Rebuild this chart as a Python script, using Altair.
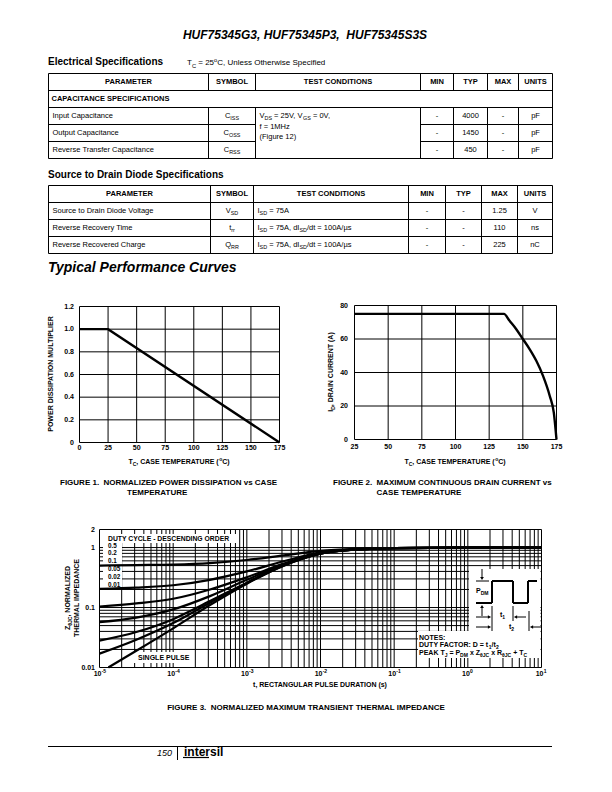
import altair as alt
import pandas as pd

FONT = "Liberation Sans"
NB = "\u00a0"

# ============================ DATA ============================
part_numbers = "HUF75345G3, HUF75345P3," + NB + " HUF75345S3S"
spec_title = "Electrical Specifications"
spec_note = [("T", 0), ("C", 1), (" = 25", 0), ("o", 2), ("C, Unless Otherwise Specified", 0)]
diode_title = "Source to Drain Diode Specifications"
curves_title = "Typical Performance Curves"

table_headers = ["PARAMETER", "SYMBOL", "TEST CONDITIONS", "MIN", "TYP", "MAX", "UNITS"]
cap_section = "CAPACITANCE SPECIFICATIONS"
cap_params = ["Input Capacitance", "Output Capacitance", "Reverse Transfer Capacitance"]
cap_symbols = [[("C", 0), ("ISS", 1)], [("C", 0), ("OSS", 1)], [("C", 0), ("RSS", 1)]]
cap_conditions = [[("V", 0), ("DS", 1), (" = 25V, V", 0), ("GS", 1), (" = 0V,", 0)],
                  [("f = 1MHz", 0)],
                  [("(Figure 12)", 0)]]
cap_min = ["-", "-", "-"]
cap_typ = ["4000", "1450", "450"]
cap_max = ["-", "-", "-"]
cap_units = ["pF", "pF", "pF"]

diode_params = ["Source to Drain Diode Voltage", "Reverse Recovery Time", "Reverse Recovered Charge"]
diode_symbols = [[("V", 0), ("SD", 1)], [("t", 0), ("rr", 1)], [("Q", 0), ("RR", 1)]]
diode_conditions = [[("I", 0), ("SD", 1), (" = 75A", 0)],
                    [("I", 0), ("SD", 1), (" = 75A, dI", 0), ("SD", 1), ("/dt = 100A/\u00b5s", 0)],
                    [("I", 0), ("SD", 1), (" = 75A, dI", 0), ("SD", 1), ("/dt = 100A/\u00b5s", 0)]]
diode_min = ["-", "-", "-"]
diode_typ = ["-", "-", "-"]
diode_max = ["1.25", "110", "225"]
diode_units = ["V", "ns", "nC"]

# Figure 1
fig1_temp = [0, 25, 175]
fig1_multiplier = [1.0, 1.0, 0.0]
fig1_x_ticks = [0, 25, 50, 75, 100, 125, 150, 175]
fig1_y_ticks = [0, 0.2, 0.4, 0.6, 0.8, 1.0, 1.2]
fig1_y_labels = ["0", "0.2", "0.4", "0.6", "0.8", "1.0", "1.2"]

# Figure 2
fig2_temp = [25, 136, 140, 145, 150, 155, 160, 165, 170, 173, 175]
fig2_current = [75, 75, 71, 66, 60, 54, 47, 38, 26, 16, 0]
fig2_x_ticks = [25, 50, 75, 100, 125, 150, 175]
fig2_y_ticks = [0, 20, 40, 60, 80]

# Figure 3
fig3_time = [1e-5, 3.16e-5, 1e-4, 3.16e-4, 1e-3, 3.16e-3, 1e-2, 3.16e-2, 1e-1, 1.0, 10.0]
fig3_d050 = [0.50, 0.51, 0.52, 0.55, 0.62, 0.74, 0.88, 0.95, 0.98, 1.0, 1.0]
fig3_d020 = [0.205, 0.215, 0.235, 0.29, 0.40, 0.59, 0.83, 0.94, 0.98, 1.0, 1.0]
fig3_d010 = [0.104, 0.117, 0.14, 0.20, 0.32, 0.54, 0.81, 0.93, 0.98, 1.0, 1.0]
fig3_d005 = [0.057, 0.068, 0.093, 0.155, 0.29, 0.52, 0.80, 0.93, 0.98, 1.0, 1.0]
fig3_d002 = [0.028, 0.039, 0.064, 0.128, 0.26, 0.51, 0.79, 0.93, 0.98, 1.0, 1.0]
fig3_d001 = [0.017, 0.029, 0.055, 0.12, 0.255, 0.50, 0.79, 0.93, 0.98, 1.0, 1.0]
fig3_single_time = [1.32e-5, 3.16e-5, 1e-4, 3.16e-4, 1e-3, 3.16e-3, 1e-2, 3.16e-2, 1e-1, 1.0, 10.0]
fig3_single = [0.010, 0.019, 0.045, 0.11, 0.25, 0.50, 0.79, 0.93, 0.98, 1.0, 1.0]
fig3_x_label_values = [1e-5, 1e-4, 1e-3, 1e-2, 1e-1, 1.0, 10.0]
fig3_x_label_base = ["10", "10", "10", "10", "10", "10", "10"]
fig3_x_label_exp = ["-5", "-4", "-3", "-2", "-1", "0", "1"]
fig3_y_label_values = [0.01, 0.1, 1.0, 2.0]
fig3_y_labels = ["0.01", "0.1", "1", "2"]
fig3_x_grid = [m * 10.0 ** e for e in range(-5, 1) for m in range(1, 10)] + [10.0]
fig3_y_grid = [m * 10.0 ** e for e in (-2, -1) for m in range(1, 10)] + [1.0, 2.0]
duty_labels = ["0.5", "0.2", "0.1", "0.05", "0.02", "0.01"]

# ============================ HELPERS ============================
REG_W, BOLD_W = {}, {}
for ch, w in zip("ABCDEFGHIJKLMNOPQRSTUVWXYZ", [667, 667, 722, 722, 667, 611, 778, 722, 278, 500, 667, 556, 833, 722, 778, 667, 778, 722, 667, 611, 722, 667, 944, 667, 667, 611]):
    REG_W[ch] = w
for ch, w in zip("abcdefghijklmnopqrstuvwxyz", [556, 556, 500, 556, 556, 278, 556, 556, 222, 222, 500, 222, 833, 556, 556, 556, 556, 333, 500, 278, 556, 500, 722, 500, 500, 500]):
    REG_W[ch] = w
for ch, w in zip("ABCDEFGHIJKLMNOPQRSTUVWXYZ", [722, 722, 722, 722, 667, 611, 778, 722, 278, 556, 722, 611, 833, 722, 778, 667, 778, 722, 667, 611, 722, 667, 944, 667, 667, 611]):
    BOLD_W[ch] = w
for ch, w in zip("abcdefghijklmnopqrstuvwxyz", [556, 611, 556, 611, 556, 333, 611, 611, 278, 278, 556, 278, 889, 611, 611, 611, 611, 389, 556, 333, 611, 556, 778, 556, 556, 500]):
    BOLD_W[ch] = w
PUNCT = {" ": 278, NB: 278, ",": 278, ".": 278, "-": 333, "/": 278, "(": 333, ")": 333,
         "=": 584, ":": 278, "\u00b0": 400, "\u00b5": 556, "\u03b8": 556, "+": 584}
for d in "0123456789":
    PUNCT[d] = 556
REG_W.update(PUNCT)
BOLD_W.update(PUNCT)
BOLD_W[":"] = 333
SUB = 0.72


def tw(s, size, bold=False):
    tbl = BOLD_W if bold else REG_W
    return sum(tbl.get(c, 556) for c in s) * size / 1000.0


def px(x):
    return x - 8.0


def py(y):
    return y - 8.0


def text_mark(t, x, y, size, bold=False, italic=False, align="left", angle=0, dx=0.0, dy=0.0):
    return alt.Chart(pd.DataFrame({"t": [t]})).mark_text(
        align=align, baseline="middle", font=FONT, fontSize=size,
        fontWeight="bold" if bold else "normal", fontStyle="italic" if italic else "normal",
        angle=angle, dx=dx, dy=dy, color="black",
    ).encode(x=alt.value(x), y=alt.value(y), text="t:N")


def rich(parts, x, y, size, bold=False, italic=False, align="left", angle=0):
    widths = [tw(t, size * (SUB if k else 1), bold) for t, k in parts]
    total = sum(widths)
    off = {"left": 0.0, "center": -total / 2.0, "right": -total}[align]
    out = []
    for (t, k), w in zip(parts, widths):
        fs = size * (SUB if k else 1)
        s = t.lstrip(" ")
        d = off + tw(" " * (len(t) - len(s)), fs, bold)
        dy = size * 0.32 if k == 1 else (-size * 0.38 if k == 2 else 0.0)
        out.append(text_mark(s, x, y, fs, bold, italic, "left", angle, dx=d, dy=dy))
        off += w
    return out


def seg(x1, y1, x2, y2, w=1.0):
    return alt.Chart(pd.DataFrame({"k": [0]})).mark_rule(color="black", strokeWidth=w).encode(
        x=alt.value(x1), y=alt.value(y1), x2=alt.value(x2), y2=alt.value(y2))


def head(x, y, shape, size=14):
    return alt.Chart(pd.DataFrame({"k": [0]})).mark_point(
        shape=shape, filled=True, color="black", size=size, opacity=1).encode(
        x=alt.value(x), y=alt.value(y))


def white_box(x1, y1, x2, y2):
    return alt.Chart(pd.DataFrame({"k": [0]})).mark_rect(color="white", opacity=1).encode(
        x=alt.value(x1), x2=alt.value(x2), y=alt.value(y1), y2=alt.value(y2))


# ---------------- tables ----------------
def rich_items(parts, x, y, size, bold=False, align="left"):
    widths = [tw(t, size * (SUB if k else 1), bold) for t, k in parts]
    total = sum(widths)
    off = {"left": 0.0, "center": -total / 2.0, "right": -total}[align]
    items = []
    for (t, k), w in zip(parts, widths):
        fs = size * (SUB if k else 1)
        s = t.lstrip(" ")
        d = off + tw(" " * (len(t) - len(s)), fs, bold)
        items.append(("sub" if k else "body_l", x + d, y, s))
        off += w
    return items


TABLE_STYLES = {
    "head": dict(size=7.5, bold=True, align="center", dy=0),
    "sect": dict(size=7.5, bold=True, align="left", dy=0),
    "body_c": dict(size=7.5, bold=False, align="center", dy=0),
    "body_l": dict(size=7.5, bold=False, align="left", dy=0),
    "sub": dict(size=7.5 * SUB, bold=False, align="left", dy=2.4),
}


def build_table(cols, nrows, y_top, y_bot, rules, items):
    xs = alt.Scale(domain=[0, cols[-1]], range=[px(48) + 0.5, px(48) + cols[-1] + 0.5], nice=False, zero=False)
    ys = alt.Scale(domain=[0, nrows], range=[py(y_top) + 0.5, py(y_bot) + 0.5], nice=False, zero=False)
    rdf = pd.DataFrame(rules, columns=["x", "x2", "y", "y2"])
    layers = [alt.Chart(rdf).mark_rule(color="black", strokeWidth=1).encode(
        x=alt.X("x:Q", scale=xs, axis=None), x2="x2:Q",
        y=alt.Y("y:Q", scale=ys, axis=None), y2="y2:Q")]
    for style, st in TABLE_STYLES.items():
        rows = [(x, y, t) for s, x, y, t in items if s == style]
        if not rows:
            continue
        df = pd.DataFrame(rows, columns=["x", "y", "t"])
        layers.append(alt.Chart(df).mark_text(
            align=st["align"], baseline="middle", font=FONT, fontSize=st["size"],
            fontWeight="bold" if st["bold"] else "normal", dy=st["dy"], color="black",
        ).encode(x=alt.X("x:Q", scale=xs, axis=None), y=alt.Y("y:Q", scale=ys, axis=None), text="t:N"))
    return alt.layer(*layers)


# Table 1 (capacitance)
t1_cols = [0, 160, 207, 372, 405, 439, 470, 504]
t1_rules = []
for yv in [0, 1, 2, 5]:
    t1_rules.append((0, 504, yv, yv))
for yv in [3, 4]:
    t1_rules.append((0, t1_cols[2], yv, yv))
    t1_rules.append((t1_cols[3], 504, yv, yv))
t1_rules.append((0, 0, 0, 5))
t1_rules.append((504, 504, 0, 5))
for c in t1_cols[1:-1]:
    t1_rules.append((c, c, 0, 1))
    t1_rules.append((c, c, 2, 5))
t1_items = []
for i, h in enumerate(table_headers):
    t1_items.append(("head", (t1_cols[i] + t1_cols[i + 1]) / 2, 0.5, h))
t1_items.append(("sect", 3, 1.5, cap_section))
for r in range(3):
    yr = 2.5 + r
    t1_items.append(("body_l", 4, yr, cap_params[r]))
    t1_items += rich_items(cap_symbols[r], (t1_cols[1] + t1_cols[2]) / 2, yr, 7.5, align="center")
    for ci, vals in zip([3, 4, 5, 6], [cap_min, cap_typ, cap_max, cap_units]):
        t1_items.append(("body_c", (t1_cols[ci] + t1_cols[ci + 1]) / 2, yr, vals[r]))
for line, yl in zip(cap_conditions, [2.5, 3.12, 3.74]):
    t1_items += rich_items(line, t1_cols[2] + 4, yl, 7.5)
table1 = build_table(t1_cols, 5, 73, 158, t1_rules, t1_items)

# Table 2 (diode)
t2_cols = [0, 162, 205, 360, 397, 433, 469, 504]
t2_rules = [(0, 504, yv, yv) for yv in range(5)] + [(c, c, 0, 4) for c in t2_cols]
t2_items = []
for i, h in enumerate(table_headers):
    t2_items.append(("head", (t2_cols[i] + t2_cols[i + 1]) / 2, 0.5, h))
for r in range(3):
    yr = 1.5 + r
    t2_items.append(("body_l", 4, yr, diode_params[r]))
    t2_items += rich_items(diode_symbols[r], (t2_cols[1] + t2_cols[2]) / 2, yr, 7.5, align="center")
    t2_items += rich_items(diode_conditions[r], t2_cols[2] + 4, yr, 7.5)
    for ci, vals in zip([3, 4, 5, 6], [diode_min, diode_typ, diode_max, diode_units]):
        t2_items.append(("body_c", (t2_cols[ci] + t2_cols[ci + 1]) / 2, yr, vals[r]))
table2 = build_table(t2_cols, 4, 185, 253, t2_rules, t2_items)


# ---------------- figures ----------------
def grid_layers(xs, ys, xticks, yticks, xdom, ydom, w=1.0):
    vdf = pd.DataFrame({"v": xticks, "lo": [ydom[0]] * len(xticks), "hi": [ydom[1]] * len(xticks)})
    hdf = pd.DataFrame({"v": yticks, "lo": [xdom[0]] * len(yticks), "hi": [xdom[1]] * len(yticks)})
    v = alt.Chart(vdf).mark_rule(color="black", strokeWidth=w).encode(
        x=alt.X("v:Q", scale=xs, axis=None), y=alt.Y("lo:Q", scale=ys, axis=None), y2="hi:Q")
    h = alt.Chart(hdf).mark_rule(color="black", strokeWidth=w).encode(
        y=alt.Y("v:Q", scale=ys, axis=None), x=alt.X("lo:Q", scale=xs, axis=None), x2="hi:Q")
    return [v, h]


def x_labels(xs, values, labels, y, size=7, dx=0.0, dy=0.0, align="center"):
    df = pd.DataFrame({"v": values, "t": labels})
    return alt.Chart(df).mark_text(align=align, baseline="middle", font=FONT, fontSize=size,
                                   fontWeight="bold", color="black", dx=dx, dy=dy).encode(
        x=alt.X("v:Q", scale=xs, axis=None), y=alt.value(y), text="t:N")


def y_labels(ys, values, labels, x, size=7):
    df = pd.DataFrame({"v": values, "t": labels})
    return alt.Chart(df).mark_text(align="right", baseline="middle", font=FONT, fontSize=size,
                                   fontWeight="bold", color="black").encode(
        y=alt.Y("v:Q", scale=ys, axis=None), x=alt.value(x), text="t:N")


temp_title = [("T", 0), ("C", 1), (", CASE TEMPERATURE (", 0), ("o", 2), ("C)", 0)]

# Figure 1
xs1 = alt.Scale(domain=[0, 175], range=[px(79) + 0.5, px(279) + 0.5], nice=False, zero=False)
ys1 = alt.Scale(domain=[0, 1.2], range=[py(442) + 0.5, py(306) + 0.5], nice=False, zero=False)
f1 = grid_layers(xs1, ys1, fig1_x_ticks, fig1_y_ticks, [0, 175], [0, 1.2])
f1.append(alt.Chart(pd.DataFrame({"T": fig1_temp, "P": fig1_multiplier})).mark_line(
    color="black", strokeWidth=2.4).encode(
    x=alt.X("T:Q", scale=xs1, axis=None), y=alt.Y("P:Q", scale=ys1, axis=None)))
f1.append(x_labels(xs1, fig1_x_ticks, [str(v) for v in fig1_x_ticks], py(448)))
f1.append(y_labels(ys1, fig1_y_ticks, fig1_y_labels, px(74)))
fig1 = alt.layer(*f1)

# Figure 2
xs2 = alt.Scale(domain=[25, 175], range=[px(354) + 0.5, px(556) + 0.5], nice=False, zero=False)
ys2 = alt.Scale(domain=[0, 80], range=[py(439) + 0.5, py(305) + 0.5], nice=False, zero=False)
f2 = grid_layers(xs2, ys2, fig2_x_ticks, fig2_y_ticks, [25, 175], [0, 80])
f2.append(alt.Chart(pd.DataFrame({"T": fig2_temp, "I": fig2_current})).mark_line(
    color="black", strokeWidth=2.4, interpolate="monotone").encode(
    x=alt.X("T:Q", scale=xs2, axis=None), y=alt.Y("I:Q", scale=ys2, axis=None)))
f2.append(x_labels(xs2, fig2_x_ticks, [str(v) for v in fig2_x_ticks], py(447)))
f2.append(y_labels(ys2, fig2_y_ticks, [str(v) for v in fig2_y_ticks], px(348)))
fig2 = alt.layer(*f2)

# Figure 3
xs3 = alt.Scale(type="log", domain=[1e-5, 10], range=[px(99) + 0.5, px(541) + 0.5], nice=False)
ys3 = alt.Scale(type="log", domain=[0.01, 2], range=[py(667) + 0.5, py(529) + 0.5], nice=False)
f3 = grid_layers(xs3, ys3, fig3_x_grid, fig3_y_grid, [1e-5, 10], [0.01, 2])
f3 += [
    white_box(px(103), py(534), px(236), py(543)),
    white_box(px(103), py(543), px(122), py(589)),
    white_box(px(134), py(652), px(192), py(663)),
    white_box(px(469), py(569), px(540.5), py(631)),
    white_box(px(418), py(631), px(540.5), py(658)),
]
rows = []
for name, vals in zip(duty_labels, [fig3_d050, fig3_d020, fig3_d010, fig3_d005, fig3_d002, fig3_d001]):
    rows += [(name, t, z) for t, z in zip(fig3_time, vals)]
rows += [("single", t, z) for t, z in zip(fig3_single_time, fig3_single)]
f3.append(alt.Chart(pd.DataFrame(rows, columns=["s", "t", "z"])).mark_line(
    color="black", strokeWidth=2.2, interpolate="monotone").encode(
    x=alt.X("t:Q", scale=xs3, axis=None), y=alt.Y("z:Q", scale=ys3, axis=None), detail="s:N"))
f3.append(x_labels(xs3, fig3_x_label_values, fig3_x_label_base, py(674), size=7, dx=-5.8, align="left"))
f3.append(x_labels(xs3, fig3_x_label_values, fig3_x_label_exp, py(674), size=5, dx=2.2, dy=-2.8, align="left"))
f3.append(y_labels(ys3, fig3_y_label_values, fig3_y_labels, px(95)))
fig3 = alt.layer(*f3)

# ============================ PAGE ============================
L = []
L.append(text_mark(part_numbers, px(305), py(35), 12, bold=True, italic=True, align="center"))
L.append(text_mark(spec_title, px(48), py(62), 10, bold=True))
L += rich(spec_note, px(187), py(63), 8)
L.append(table1)
L.append(text_mark(diode_title, px(48), py(175), 10, bold=True))
L.append(table2)
L.append(text_mark(curves_title, px(48), py(268), 14, bold=True, italic=True))

L += [fig1, fig2]
L += rich(temp_title, px(179), py(462), 7, bold=True, align="center")
L.append(text_mark("POWER DISSIPATION MULTIPLIER", px(51), py(374), 7, bold=True, align="center", angle=270))
L += rich(temp_title, px(455), py(462), 7, bold=True, align="center")
L += rich([("I", 0), ("D", 1), (", DRAIN CURRENT (A)", 0)], px(331), py(372), 7, bold=True, align="center", angle=270)

cap_indent = tw("FIGURE 1." + NB + NB, 8, True)
L.append(text_mark("FIGURE 1." + NB + NB + "NORMALIZED POWER DISSIPATION vs CASE", px(60), py(483), 8, bold=True))
L.append(text_mark("TEMPERATURE", px(127), py(493), 8, bold=True))
L.append(text_mark("FIGURE 2." + NB + NB + "MAXIMUM CONTINUOUS DRAIN CURRENT vs", px(333), py(483), 8, bold=True))
L.append(text_mark("CASE TEMPERATURE", px(333) + cap_indent, py(493), 8, bold=True))

L.append(fig3)
# figure 3 annotations
L.append(text_mark("DUTY CYCLE - DESCENDING ORDER", px(108), py(538.6), 6.8, bold=True))
for lab, yy in zip(duty_labels, [545.8, 553.2, 561.2, 569.4, 577.3, 584.5]):
    L.append(text_mark(lab, px(108), py(yy), 6.3, bold=True))
L.append(text_mark("SINGLE PULSE", px(138), py(657.5), 7, bold=True))
wave = [(476, 603, 492, 603), (492, 603, 492, 581), (492, 581, 513, 581), (513, 581, 513, 603),
        (513, 603, 528, 603), (528, 603, 528, 581), (528, 581, 537, 581)]
for a, b, c, d in wave:
    L.append(seg(px(a), py(b), px(c), py(d), 2))
for a, b, c, d in [(476, 581, 489, 581), (482, 569, 482, 577), (482, 616, 482, 608),
                   (476, 617, 488, 617), (526, 617, 517, 617), (476, 627, 488, 627), (541, 627, 533, 627),
                   (492, 606, 492, 631), (513, 606, 513, 621), (529, 611, 529, 631)]:
    L.append(seg(px(a), py(b), px(c), py(d), 1))
L += [head(px(482), py(578.5), "triangle-down"), head(px(482), py(606.5), "triangle-up"),
      head(px(489.5), py(617), "triangle-right"), head(px(515.5), py(617), "triangle-left"),
      head(px(489.5), py(627), "triangle-right"), head(px(531.5), py(627), "triangle-left")]
L += rich([("P", 0), ("DM", 1)], px(476), py(591), 7, bold=True)
L += rich([("t", 0), ("1", 1)], px(500), py(615), 7, bold=True)
L += rich([("t", 0), ("2", 1)], px(509), py(627), 7, bold=True)
L.append(text_mark("NOTES:", px(419), py(637.5), 7, bold=True))
L += rich([("DUTY FACTOR: D = t", 0), ("1", 1), ("/t", 0), ("2", 1)], px(419), py(645), 7, bold=True)
L += rich([("PEAK T", 0), ("J", 1), (" = P", 0), ("DM", 1), (" x Z", 0), ("\u03b8JC", 1),
           (" x R", 0), ("\u03b8JC", 1), (" + T", 0), ("C", 1)], px(419), py(653), 7, bold=True)
L.append(text_mark("t, RECTANGULAR PULSE DURATION (s)", px(320), py(685), 7, bold=True, align="center"))
L += rich([("Z", 0), ("\u03b8JC", 1), (", NORMALIZED", 0)], px(67.5), py(598), 7, bold=True, align="center", angle=270)
L.append(text_mark("THERMAL IMPEDANCE", px(76.5), py(598), 7, bold=True, align="center", angle=270))
L.append(text_mark("FIGURE 3." + NB + NB + "NORMALIZED MAXIMUM TRANSIENT THERMAL IMPEDANCE", px(306), py(708), 8, bold=True, align="center"))

# footer
L.append(seg(px(48), py(746.5), px(552), py(746.5), 1))
L.append(seg(px(177.5), py(747), px(177.5), py(760), 1))
L.append(text_mark("150", px(172), py(753), 9, italic=True, align="right"))
L.append(text_mark("intersil", px(184), py(752), 12, bold=True))
L.append(seg(px(183), py(757.5), px(209), py(757.5), 1.2))

chart = alt.layer(*L).resolve_scale(x="independent", y="independent").properties(
    width=596, height=776, padding=0, background="white",
    autosize=alt.AutoSizeParams(type="none"),
).configure_view(strokeWidth=0)

chart.save("out.html", embed_options={"renderer": "svg", "actions": False})
